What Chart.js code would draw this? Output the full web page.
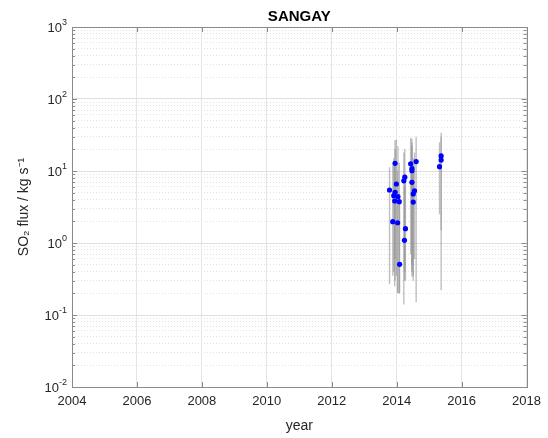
<!DOCTYPE html>
<html>
<head>
<meta charset="utf-8">
<script src="https://cdn.jsdelivr.net/npm/chart.js@4.4.1/dist/chart.umd.min.js"></script>
<style>
  html, body { margin: 0; padding: 0; background: #fff; }
  #wrap { width: 548px; height: 438px; }
</style>
</head>
<body>
<div id="wrap"><canvas id="chart" width="548" height="438"></canvas></div>
<script>
const years = [2013.95, 2013.78, 2013.99, 2013.95, 2013.91, 2014.04, 2013.94, 2014.08, 2013.88, 2014.03,
               2014.09, 2014.25, 2014.22, 2014.27, 2014.24, 2014.43, 2014.47, 2014.47, 2014.60, 2014.47,
               2014.55, 2014.51, 2014.51, 2015.37, 2015.37, 2015.32];
const flux = [12.8, 5.45, 6.6, 5.06, 4.54, 4.4, 3.83, 3.75, 1.98, 1.91,
              0.506, 8.2, 7.3, 1.58, 1.09, 12.6, 10.8, 10.1, 13.5, 6.97,
              5.3, 4.8, 3.7, 16.2, 14.2, 11.5];
// error bar limits
const fluxLow = [0.6, 0.27, 0.35, 0.3, 0.4, 0.2, 0.25, 0.2, 0.35, 0.2,
                 0.2, 0.4, 0.14, 0.3, 0.3, 0.7, 0.34, 0.5, 0.15, 0.4,
                 0.6, 0.3, 0.35, 0.22, 1.5, 2.5];
const fluxHigh = [27, 11.3, 27, 20, 15, 22, 12, 13, 12, 10,
                  4, 20, 18, 9, 6, 29, 25, 28, 30, 22,
                  18, 15, 12, 34, 30, 25];

const xTicks = [2004, 2006, 2008, 2010, 2012, 2014, 2016, 2018];
const yDecades = [-2, -1, 0, 1, 2, 3];

const FONT = "'Liberation Sans', Arial, Helvetica, sans-serif";
const TEXT = "#262626";

const majorY = yDecades.map(e => Math.pow(10, e));
const minorY = [];
yDecades.slice(0, -1).forEach(e => {
    for (let m = 2; m <= 9; m++) minorY.push(m * Math.pow(10, e));
});

// grey vertical error bars, drawn through the chart's scales
const errorBars = {
    id: "errorBars",
    beforeDatasetsDraw(chart) {
        const {ctx, chartArea, scales} = chart;
        ctx.save();
        ctx.beginPath();
        ctx.rect(chartArea.left, chartArea.top, chartArea.right - chartArea.left, chartArea.bottom - chartArea.top);
        ctx.clip();
        ctx.strokeStyle = "rgba(140,140,140,0.55)";
        ctx.lineWidth = 1.4;
        years.forEach((yr, i) => {
            const x = scales.x.getPixelForValue(yr);
            ctx.beginPath();
            ctx.moveTo(x, scales.y.getPixelForValue(fluxLow[i]));
            ctx.lineTo(x, scales.y.getPixelForValue(fluxHigh[i]));
            ctx.stroke();
        });
        ctx.restore();
    }
};

// 10^n labels with a raised exponent
const powerLabels = {
    id: "powerLabels",
    afterDraw(chart) {
        const {ctx, chartArea: a, scales} = chart;
        ctx.save();
        ctx.fillStyle = TEXT;
        ctx.textBaseline = "alphabetic";
        yDecades.forEach(e => {
            const y = scales.y.getPixelForValue(Math.pow(10, e));
            const exp = String(e);
            ctx.font = "9px " + FONT;
            const we = ctx.measureText(exp).width;
            ctx.font = "13px " + FONT;
            const wb = ctx.measureText("10").width;
            const right = a.left - 5;
            ctx.textAlign = "left";
            ctx.fillText("10", right - we - wb, y + 5);
            ctx.font = "9px " + FONT;
            ctx.fillText(exp, right - we, y - 2);
        });
        ctx.restore();
    }
};

// matlab style box with inward ticks
const axesBox = {
    id: "axesBox",
    afterDraw(chart) {
        const {ctx, chartArea: a, scales} = chart;
        ctx.save();
        ctx.strokeStyle = "#8a8a8a";
        ctx.lineWidth = 1;
        ctx.strokeRect(Math.round(a.left) + 0.5, Math.round(a.top) + 0.5,
                       Math.round(a.right - a.left), Math.round(a.bottom - a.top));
        ctx.beginPath();
        xTicks.forEach(v => {
            const x = Math.round(scales.x.getPixelForValue(v)) + 0.5;
            ctx.moveTo(x, a.bottom); ctx.lineTo(x, a.bottom - 5);
            ctx.moveTo(x, a.top); ctx.lineTo(x, a.top + 5);
        });
        majorY.forEach(v => {
            const y = Math.round(scales.y.getPixelForValue(v)) + 0.5;
            ctx.moveTo(a.left, y); ctx.lineTo(a.left + 5, y);
            ctx.moveTo(a.right, y); ctx.lineTo(a.right - 5, y);
        });
        minorY.forEach(v => {
            const y = Math.round(scales.y.getPixelForValue(v)) + 0.5;
            ctx.moveTo(a.left, y); ctx.lineTo(a.left + 3, y);
            ctx.moveTo(a.right, y); ctx.lineTo(a.right - 3, y);
        });
        ctx.stroke();
        ctx.restore();
    }
};

new Chart(document.getElementById("chart"), {
    type: "scatter",
    data: {
        datasets: [{
            label: "SO2 flux",
            data: years.map((x, i) => ({x: x, y: flux[i]})),
            backgroundColor: "#0000ff",
            borderWidth: 0,
            pointRadius: 2.6,
        }],
    },
    options: {
        responsive: false,
        animation: false,
        devicePixelRatio: 1,
        layout: {padding: {top: 0, right: 19, left: 0, bottom: 0}},
        plugins: {
            legend: {display: false},
            tooltip: {enabled: false},
            title: {
                display: true,
                text: "SANGAY",
                fullSize: false,
                color: "#000",
                font: {family: FONT, size: 15, weight: "bold", lineHeight: 1.2},
                padding: {top: 8, bottom: 1},
            },
        },
        scales: {
            x: {
                type: "linear",
                min: 2004,
                max: 2018,
                afterBuildTicks: s => { s.ticks = xTicks.map(v => ({value: v})); },
                afterFit: s => { s.height = 51; },
                ticks: {
                    callback: v => String(v),
                    color: TEXT,
                    padding: 7,
                    maxRotation: 0,
                    font: {family: FONT, size: 13},
                },
                grid: {color: "#e4e4e4", drawTicks: false},
                border: {display: false},
                title: {
                    display: true,
                    text: "year",
                    color: TEXT,
                    font: {family: FONT, size: 14},
                    padding: {top: 0, bottom: 3},
                },
            },
            y: {
                type: "logarithmic",
                min: 0.01,
                max: 1000,
                afterBuildTicks: s => { s.ticks = majorY.map(v => ({value: v})); },
                afterFit: s => { s.width = 72; },
                ticks: {display: false},
                grid: {color: "#e0e0e0", drawTicks: false},
                border: {display: false},
                title: {
                    display: true,
                    text: "SO₂ flux / kg s⁻¹",
                    color: TEXT,
                    font: {family: FONT, size: 14},
                    padding: {top: 16, bottom: 0},
                },
            },
            yMinor: {
                type: "logarithmic",
                position: "left",
                min: 0.01,
                max: 1000,
                afterBuildTicks: s => { s.ticks = minorY.map(v => ({value: v})); },
                afterFit: s => { s.width = 0; },
                ticks: {display: false},
                grid: {color: "#e2e2e2", drawTicks: false},
                border: {display: false, dash: [1, 2]},
            },
        },
    },
    plugins: [errorBars, powerLabels, axesBox],
});
</script>
</body>
</html>
